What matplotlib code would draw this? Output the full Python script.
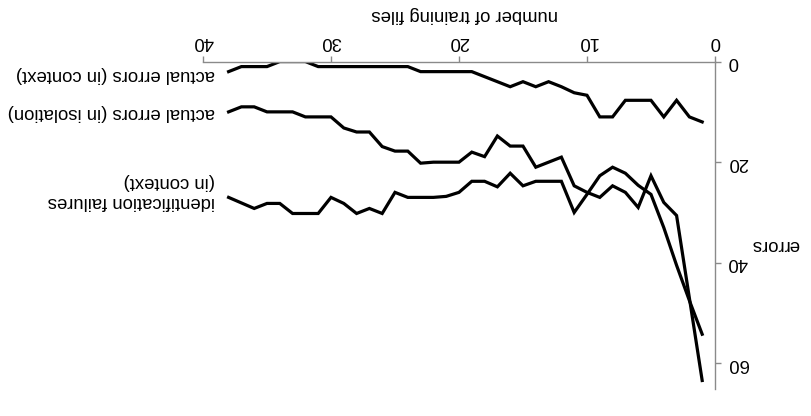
import matplotlib
matplotlib.use("Agg")
import matplotlib.pyplot as plt

plt.rcParams['font.family'] = ['Liberation Sans', 'DejaVu Sans']

# number of training files
files = list(range(1, 39))

# actual errors (in context)
errors_context = [12, 11, 7.7, 11, 7.7, 7.7, 7.7, 11, 11, 6.7,
                  6.2, 5, 4, 5, 4, 5, 4, 3, 2, 2,
                  2, 2, 2, 1, 1, 1, 1, 1, 1, 1,
                  1, 0, 0, 0, 1, 1, 1, 2]

# actual errors (in isolation)
errors_isolation = [63.4, 47, 30.6, 28, 22.7, 29, 26, 24.7, 27, 26,
                    24.7, 19, 20, 21, 16.8, 16.8, 14.8, 18.9, 18, 20,
                    20, 20, 20.2, 17.8, 17.8, 16.9, 14, 14, 13.2, 11,
                    11, 11, 10, 10, 10, 9, 9, 10]

# identification failures (in context)
id_failures = [54.2, 47.5, 40.5, 33, 26.4, 24.6, 22.2, 21, 22.7, 26.4,
               30, 23.8, 23.8, 23.8, 24.7, 22.2, 24.9, 23.8, 23.8, 26,
               26.8, 27, 27, 27, 26, 30.2, 29.2, 30.2, 28.2, 27,
               30.2, 30.2, 30.2, 28.2, 28.2, 29.2, 28.1, 27]

series_labels = ["actual errors (in context)",
                 "actual errors (in isolation)",
                 "identification failures\n(in context)"]
label_y = [2.6, 10.1, 25.8]

x_ticks = [0, 10, 20, 30, 40]
y_ticks = [0, 20, 40, 60]

FS = 13.3

fig = plt.figure(figsize=(8.11, 4.16), dpi=100)
ax = fig.add_axes([0.2503, 0.066, 0.6313, 0.786])

for vals in (errors_context, errors_isolation, id_failures):
    ax.plot(files, vals, color='black', lw=2.3, solid_joinstyle='miter')

# the whole chart is drawn turned half a revolution
ax.set_xlim(40, 0)
ax.set_ylim(65, 0)
ax.xaxis.tick_top()
ax.yaxis.tick_right()
ax.set_xticks(x_ticks)
ax.set_yticks(y_ticks)

spine_color = '#8a8a8a'
for side in ('left', 'bottom'):
    ax.spines[side].set_visible(False)
for side in ('top', 'right'):
    ax.spines[side].set_color(spine_color)
    ax.spines[side].set_linewidth(1.0)

ax.tick_params(axis='x', direction='out', length=4, width=1, color=spine_color,
               labelsize=FS, pad=4.5, labelrotation=180)
ax.tick_params(axis='y', direction='out', length=4, width=1, color=spine_color,
               labelsize=FS, pad=5.0, labelrotation=180)
for lbl in ax.get_yticklabels():
    lbl.set_va('center')

for text, yv in zip(series_labels, label_y):
    ax.text(39.1, yv, text, rotation=180, ha='right', va='center',
            fontsize=FS, multialignment='left', clip_on=False)

fig.text(465 / 811, 1 - 15 / 416, 'number of training files', rotation=180,
         ha='center', va='center', fontsize=FS)
fig.text(775 / 811, 1 - 245 / 416, 'errors', rotation=180,
         ha='center', va='center', fontsize=FS)

fig.savefig('out.png', dpi=100)
